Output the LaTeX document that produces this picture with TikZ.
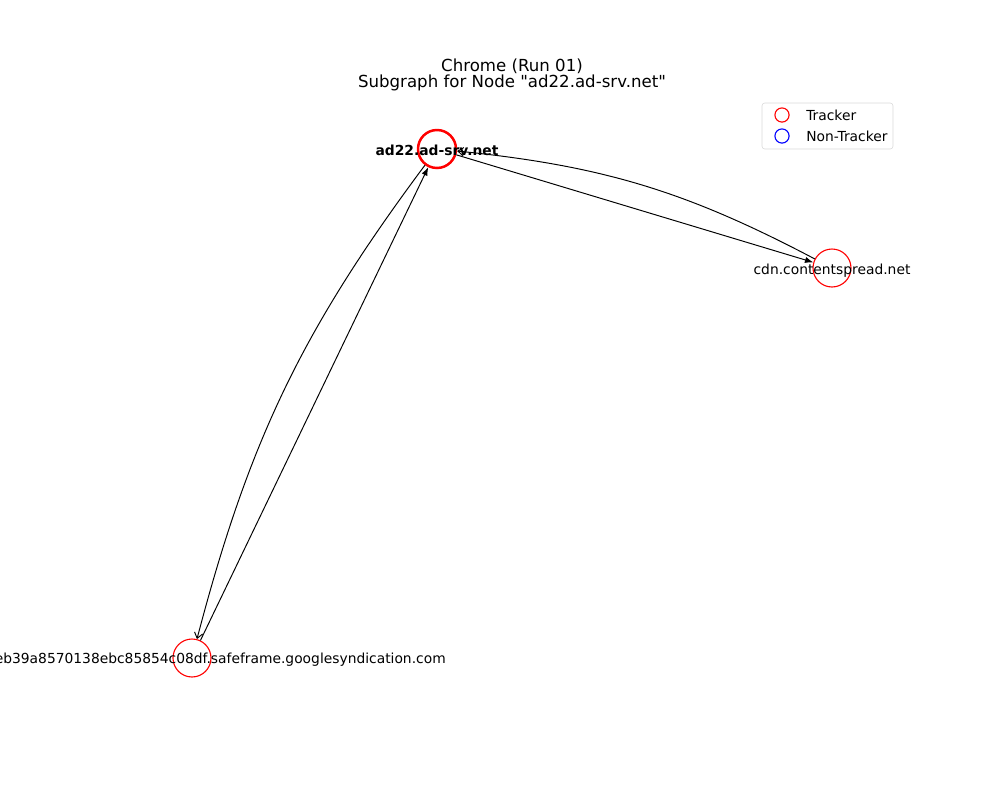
\documentclass[tikz,border=0pt]{standalone}
\usepackage{fontspec}
\setmainfont{DejaVu Sans}
\usetikzlibrary{arrows.meta}
\begin{document}
\begin{tikzpicture}[x=0.254mm,y=-0.254mm,
    trk/.style={circle,draw=red,line width=0.8pt,minimum size=9.65mm,inner sep=0pt},
    host/.style={font=\fontsize{10}{12}\selectfont,inner sep=0pt},
    edge/.style={line width=0.7pt,-{Latex[length=6pt,width=4.5pt]}},
    bent/.style={line width=0.7pt,-{Straight Barb[length=4pt,width=6pt]}},
    keydot/.style={circle,line width=0.8pt,minimum size=3.6mm,inner sep=0pt}]
  \useasboundingbox (0,0) rectangle (1000,800);
  % title
  \node[font=\fontsize{12}{14}\selectfont] (run) at (512,66) {Chrome (Run 01)};
  \node[font=\fontsize{12}{14}\selectfont] (sub) at (512,83) {Subgraph for Node \textquotedbl ad22.ad-srv.net\textquotedbl};
  % hosts
  \node[trk,line width=1.8pt] (ad) at (437,149) {};
  \node[trk] (cdn) at (832,268) {};
  \node[trk] (sf) at (192,658) {};
  % edges
  \draw[edge] (ad) -- (cdn);
  \draw[bent] (cdn) to[bend right=11] (ad);
  \draw[edge] (sf) -- (ad);
  \draw[bent] (ad) to[bend right=11] (sf);
  % labels
  \node[host,font=\fontsize{10}{12}\selectfont\bfseries] (adtxt) at ([yshift=-1]ad) {ad22.ad-srv.net};
  \node[host] (cdntxt) at ([yshift=-2]cdn) {cdn.contentspread.net};
  \node[host,anchor=east] (sftxt) at (446,660) {eb39a8570138ebc85854c08df.safeframe.googlesyndication.com};
  % legend
  \draw[rounded corners=2pt,draw=black!15,fill=white] (762,103) rectangle (893,149);
  \node[keydot,draw=red] (ktrk) at (782,115) {};
  \node[keydot,draw=blue] (knon) at (782,136) {};
  \node[host,anchor=west] (ttrk) at (806,115) {Tracker};
  \node[host,anchor=west] (tnon) at (806,136) {Non-Tracker};
\end{tikzpicture}
\end{document}
